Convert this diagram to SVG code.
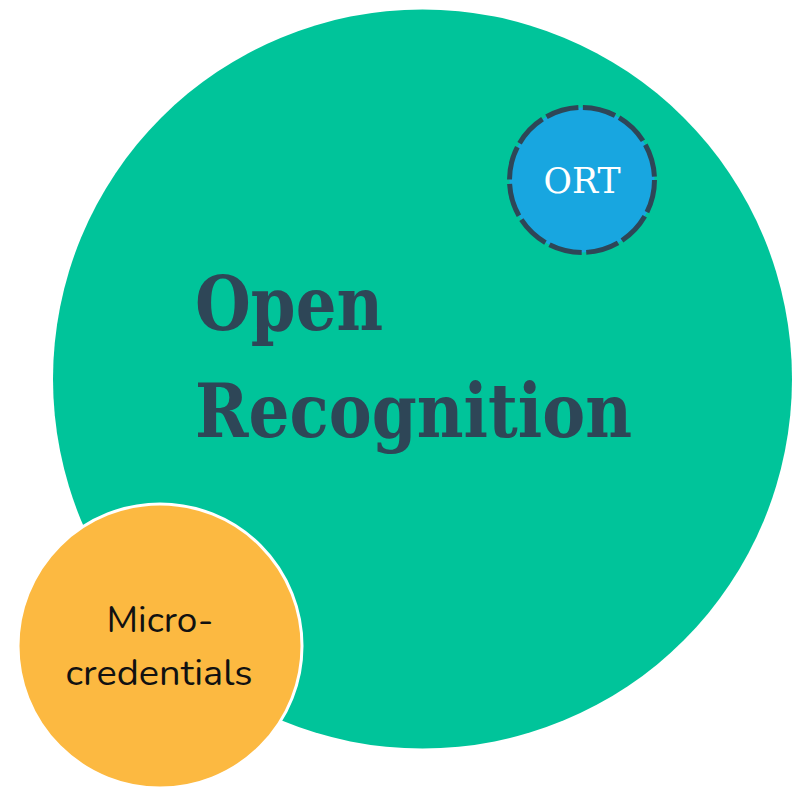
<svg xmlns="http://www.w3.org/2000/svg" width="800" height="800" viewBox="0 0 800 800">
  <style>
    .title { font-family: "Roboto Slab", "DejaVu Serif", "Liberation Serif", serif; font-weight: bold; font-size: 75px; fill: #2E4657; }
    .ort { font-family: "Roboto Slab", "DejaVu Serif", "Liberation Serif", serif; font-size: 36px; fill: #FFFFFF; }
    .micro { font-family: "Nunito", "Noto Sans", "Open Sans", sans-serif; font-size: 36px; fill: #111111; }
  </style>
  <rect width="800" height="800" fill="#FFFFFF"/>
  <g id="open-recognition">
    <circle cx="422.5" cy="379" r="369.5" fill="#00C49A"/>
    <text class="title" x="195" y="330" textLength="188" lengthAdjust="spacingAndGlyphs">Open</text>
    <text class="title" x="195" y="437" textLength="437" lengthAdjust="spacingAndGlyphs">Recognition</text>
  </g>
  <g id="ort">
    <circle cx="582" cy="180" r="72.5" fill="#18A6E0" stroke="#2E4657" stroke-width="5" stroke-dasharray="33.4 4.6"/>
    <text class="ort" x="582" y="193" text-anchor="middle" textLength="77" lengthAdjust="spacingAndGlyphs">ORT</text>
  </g>
  <g id="micro-credentials">
    <circle cx="160" cy="646" r="142" fill="#FCB941" stroke="#FFFFFF" stroke-width="3"/>
    <text class="micro" x="160" y="632" text-anchor="middle" textLength="107" lengthAdjust="spacingAndGlyphs">Micro-</text>
    <text class="micro" x="159" y="685" text-anchor="middle" textLength="187" lengthAdjust="spacingAndGlyphs">credentials</text>
  </g>
  <g id="connectors"/>
</svg>
